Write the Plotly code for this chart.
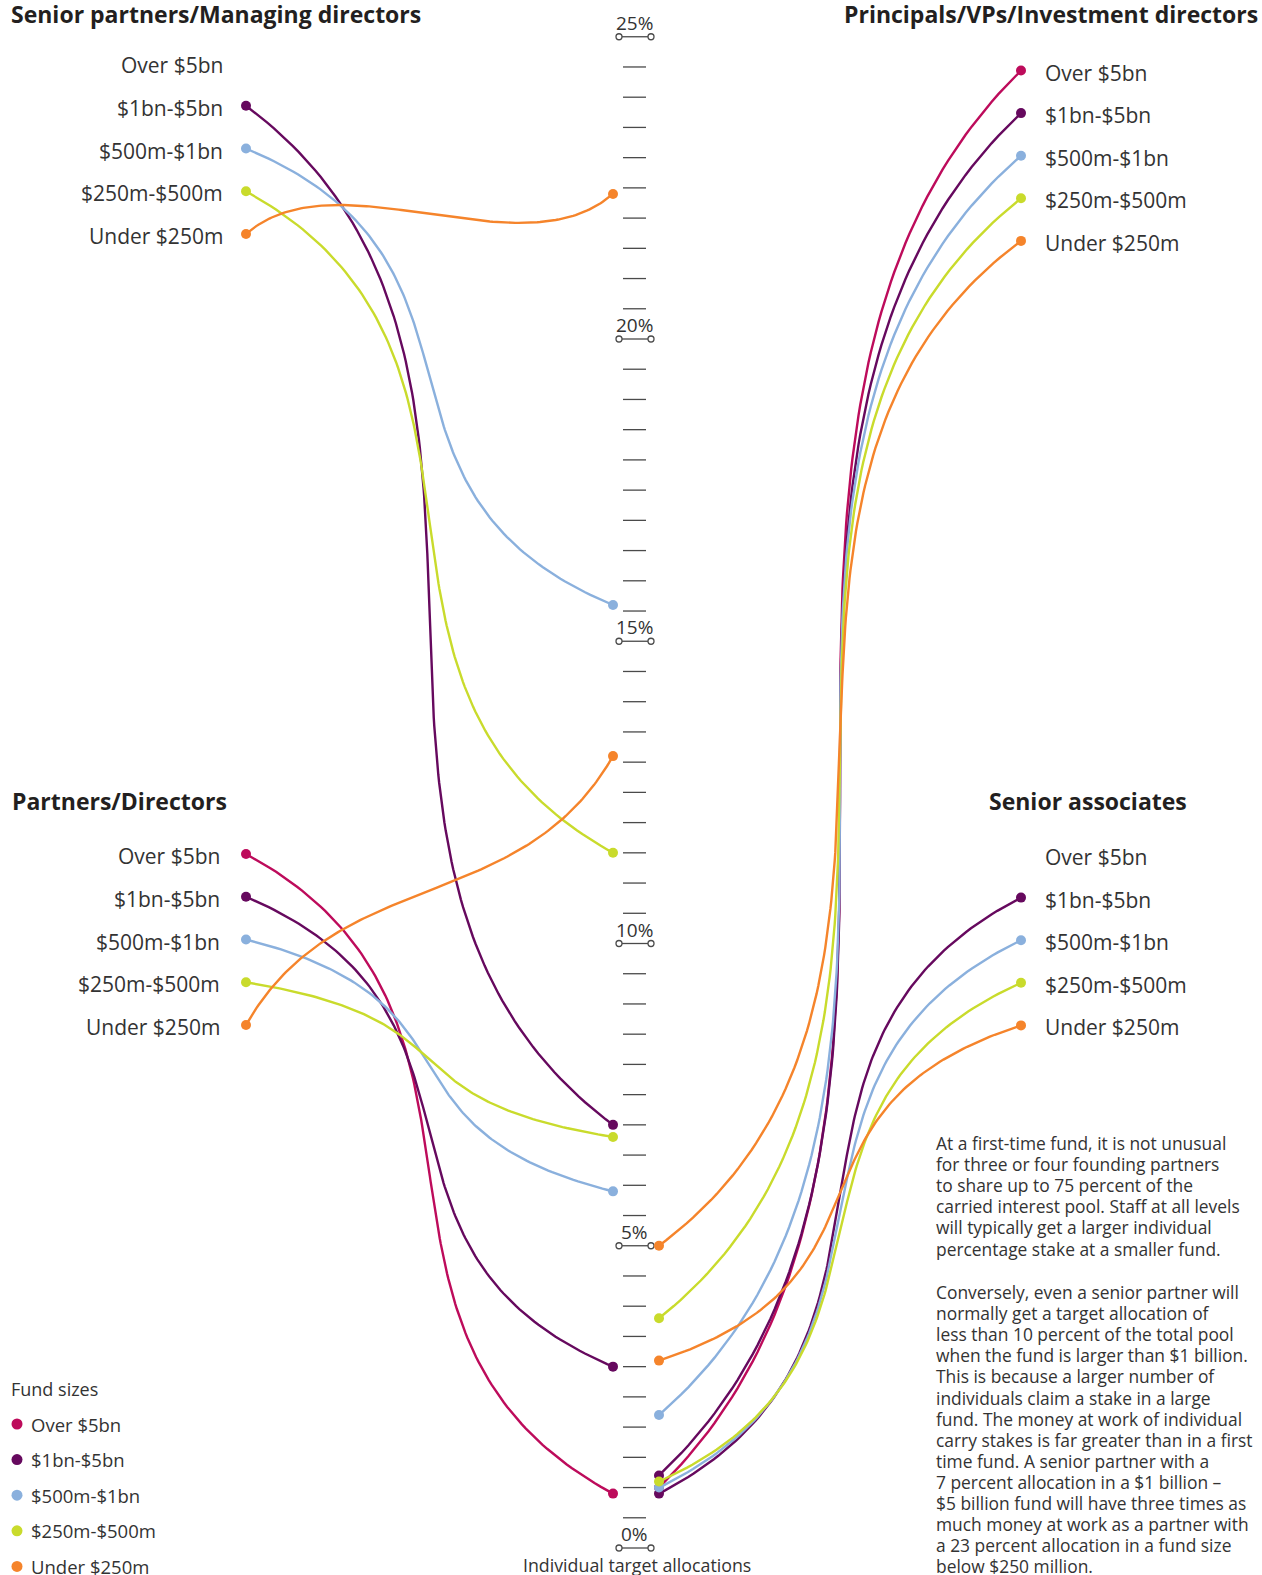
import numpy as np
import plotly.graph_objects as go

# ---------------- data ----------------
fund_sizes = ["Over $5bn", "$1bn-$5bn", "$500m-$1bn", "$250m-$500m", "Under $250m"]
fund_colors = ["#BD0B5B", "#66095E", "#8AB0DD", "#C9DB2C", "#F5842B"]

# individual target allocation (% of carry pool), by fund size (None = no data)
senior_partners_md = [None, 7.0, 15.6, 11.5, 22.4]
partners_directors = [0.9, 3.0, 5.9, 6.8, 13.1]
principals_vps = [1.0, 1.2, 2.2, 3.8, 5.0]
senior_associates = [None, 0.9, 1.0, 1.1, 3.1]

panel_titles = ["Senior partners/Managing directors", "Partners/Directors",
                "Principals/VPs/Investment directors", "Senior associates"]

major_ticks = [0, 5, 10, 15, 20, 25]
major_tick_labels = ["0%", "5%", "10%", "15%", "20%", "25%"]
minor_step = 0.5
axis_title = "Individual target allocations"
legend_title = "Fund sizes"

note_para1 = ["At a first-time fund, it is not unusual",
              "for three or four founding partners",
              "to share up to 75 percent of the",
              "carried interest pool. Staff at all levels",
              "will typically get a larger individual",
              "percentage stake at a smaller fund."]
note_para2 = ["Conversely, even a senior partner will",
              "normally get a target allocation of",
              "less than 10 percent of the total pool",
              "when the fund is larger than $1 billion.",
              "This is because a larger number of",
              "individuals claim a stake in a large",
              "fund. The money at work of individual",
              "carry stakes is far greater than in a first",
              "time fund. A senior partner with a",
              "7 percent allocation in a $1 billion \u2013",
              "$5 billion fund will have three times as",
              "much money at work as a partner with",
              "a 23 percent allocation in a fund size",
              "below $250 million."]

# ---------------- layout constants ----------------
W, H = 1262, 1575
ZERO_PX, PX_PER_PCT = 1548.0, 60.45
FONT = "'Open Sans', Lato, sans-serif"
TXT = "#333333"
DARK = "#231F20"


def vy(py):
    """pixel row -> value on the y axis"""
    return (ZERO_PX - py) / PX_PER_PCT


panels = [
    dict(values=senior_partners_md, title=panel_titles[0], tx=9, ty=14, tanchor="left",
         row0=65, step=42.75, lx=225, lanchor="right", dot_x=246, axis_x=613),
    dict(values=partners_directors, title=panel_titles[1], tx=10, ty=801, tanchor="left",
         row0=856, step=42.75, lx=222, lanchor="right", dot_x=246, axis_x=613),
    dict(values=principals_vps, title=panel_titles[2], tx=1260, ty=14, tanchor="right",
         row0=72.5, step=42.6, lx=1043, lanchor="left", dot_x=1021, axis_x=659),
    dict(values=senior_associates, title=panel_titles[3], tx=987, ty=801, tanchor="left",
         row0=857, step=42.6, lx=1043, lanchor="left", dot_x=1021, axis_x=659),
]


def bezier(x0, y0, x3, y3, n=140):
    dx, dy = x3 - x0, y3 - y0
    dy_px = dy * PX_PER_PCT          # positive = axis point higher than label point
    r = abs(dy_px) / abs(dx)
    if dy_px > 0:      # rising connector: wave-like shape
        cx = 0.25 * dx
        cy = max(0.6 * abs(dy_px), 80.0) / PX_PER_PCT
        p1 = (x0 + cx, y0 + cy)
        p2 = (x3 - cx, y3 - cy)
    else:
        a, b = min(1.0, 0.6 + 0.12 * r), 0.25
        p1 = (x0 + a * dx, y0 + b * dy)
        p2 = (x3 - a * dx, y3 - b * dy)
    t = np.linspace(0, 1, n)
    c0, c1, c2, c3 = (1 - t) ** 3, 3 * (1 - t) ** 2 * t, 3 * (1 - t) * t ** 2, t ** 3
    xs = c0 * x0 + c1 * p1[0] + c2 * p2[0] + c3 * x3
    ys = c0 * y0 + c1 * p1[1] + c2 * p2[1] + c3 * y3
    return xs, ys


fig = go.Figure()
annotations = []

# ---------- axis ticks ----------
tx, ty = [], []
n_steps = int(round(max(major_ticks) / minor_step))
for k in range(n_steps + 1):
    v = k * minor_step
    if any(abs(v - m) < 1e-9 for m in major_ticks):
        tx += [619, 651, None]
    else:
        tx += [623, 646, None]
    ty += [v, v, None]
fig.add_trace(go.Scatter(x=tx, y=ty, mode="lines", line=dict(color="#4a4a4a", width=1.3),
                         hoverinfo="skip"))
fig.add_trace(go.Scatter(x=[619] * len(major_ticks) + [651] * len(major_ticks),
                         y=major_ticks + major_ticks, mode="markers",
                         marker=dict(size=6, color="white", line=dict(color="#4a4a4a", width=1.3)),
                         hoverinfo="skip"))
label_lift = 14 / PX_PER_PCT
for m, lab in zip(major_ticks, major_tick_labels):
    annotations.append(dict(x=634, y=m + label_lift, text=lab, showarrow=False,
                            xanchor="center", yanchor="middle",
                            font=dict(family=FONT, size=19, color=TXT)))
annotations.append(dict(x=637, y=vy(1565), text=axis_title, showarrow=False,
                        xanchor="center", yanchor="middle",
                        font=dict(family=FONT, size=17.8, color=TXT)))

# ---------- curves and dots ----------
for p in panels:
    annotations.append(dict(x=p["tx"], y=vy(p["ty"]), text="<b>%s</b>" % p["title"], showarrow=False,
                            xanchor=p["tanchor"], yanchor="middle",
                            font=dict(family=FONT, size=23, color=DARK)))
    for i, (name, col, v) in enumerate(zip(fund_sizes, fund_colors, p["values"])):
        row = p["row0"] + i * p["step"]
        annotations.append(dict(x=p["lx"], y=vy(row), text=name, showarrow=False,
                                xanchor=p["lanchor"], yanchor="middle",
                                font=dict(family=FONT, size=21, color=TXT)))
        if v is None:
            continue
        ly = vy(row - 2)
        xs, ys = bezier(p["dot_x"], ly, p["axis_x"], v)
        fig.add_trace(go.Scatter(x=xs, y=ys, mode="lines", line=dict(color=col, width=2.4),
                                 hoverinfo="skip"))
        fig.add_trace(go.Scatter(x=[p["dot_x"], p["axis_x"]], y=[ly, v], mode="markers",
                                 marker=dict(size=10, color=col), hoverinfo="skip"))

# ---------- legend ----------
annotations.append(dict(x=9, y=vy(1389), text=legend_title, showarrow=False,
                        xanchor="left", yanchor="middle",
                        font=dict(family=FONT, size=18, color=TXT)))
leg_rows = [1424 + 35.6 * i for i in range(len(fund_sizes))]
fig.add_trace(go.Scatter(x=[17] * len(fund_sizes), y=[vy(r) for r in leg_rows], mode="markers",
                         marker=dict(size=11, color=fund_colors), hoverinfo="skip"))
for name, r in zip(fund_sizes, leg_rows):
    annotations.append(dict(x=29, y=vy(r), text=name, showarrow=False,
                            xanchor="left", yanchor="middle",
                            font=dict(family=FONT, size=18.5, color=TXT)))

# ---------- note text ----------
for i, line in enumerate(note_para1):
    annotations.append(dict(x=934, y=vy(1143 + 21.1 * i), text=line, showarrow=False,
                            xanchor="left", yanchor="middle",
                            font=dict(family=FONT, size=17.4, color=TXT)))
for i, line in enumerate(note_para2):
    annotations.append(dict(x=934, y=vy(1292 + 21.1 * i), text=line, showarrow=False,
                            xanchor="left", yanchor="middle",
                            font=dict(family=FONT, size=17.4, color=TXT)))

fig.update_layout(
    width=W, height=H, autosize=False,
    margin=dict(l=0, r=0, t=0, b=0, pad=0),
    paper_bgcolor="white", plot_bgcolor="white",
    showlegend=False,
    xaxis=dict(range=[0, W], visible=False, fixedrange=True),
    yaxis=dict(range=[vy(H), vy(0)], visible=False, fixedrange=True),
    annotations=annotations,
)

fig.write_html("out.html", config={"displayModeBar": False},
               post_script="document.body.style.margin='0';")
